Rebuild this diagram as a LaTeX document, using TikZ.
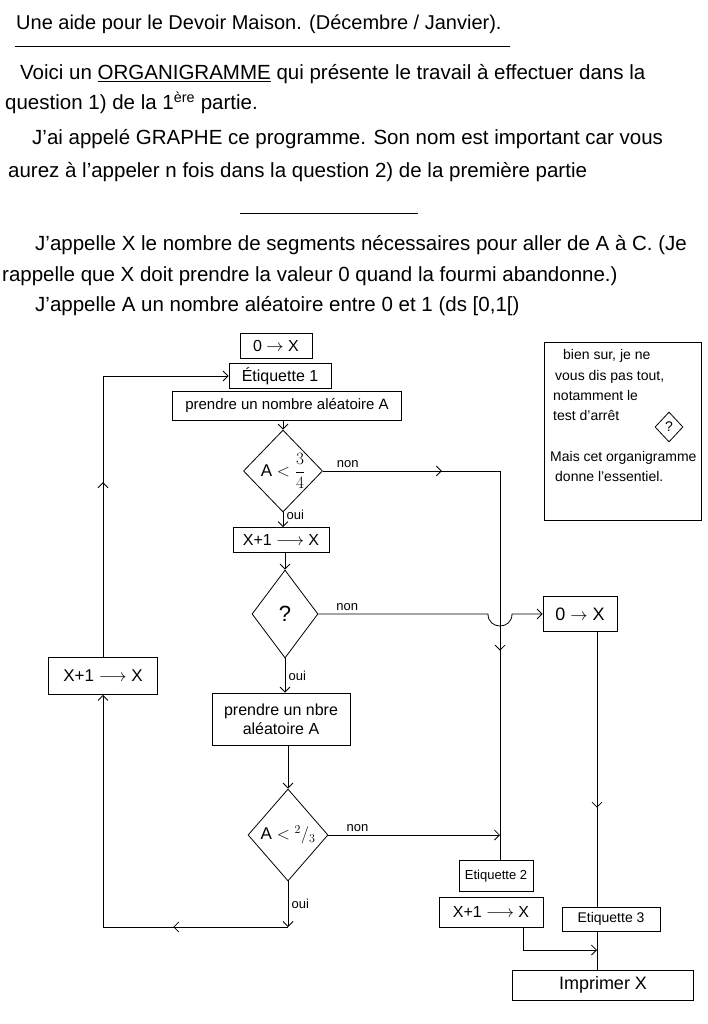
\documentclass[tikz,border=0pt]{standalone}
\usepackage{fontspec}
\setmainfont{Liberation Sans}
\usetikzlibrary{shapes.geometric,arrows.meta,decorations.markings}

\begin{document}
\begin{tikzpicture}[x=1pt,y=-1pt,
    >={Straight Barb[length=5pt,width=10pt]},
    ligne/.style={font=\fontsize{20.5}{25}\selectfont,anchor=base west,inner sep=0pt},
    boite/.style={draw,thick,minimum height=25pt,inner sep=2pt,font=\fontsize{16}{19}\selectfont},
    losange/.style={draw,thick,diamond,inner sep=0pt,font=\fontsize{17}{20}\selectfont},
    lien/.style={thick},
    etiq/.style={font=\fontsize{13}{15}\selectfont},
    note/.style={font=\fontsize{14}{16}\selectfont,anchor=base west,inner sep=0pt},
    milieu/.style={postaction={decorate,decoration={markings,mark=at position #1 with {\arrow{>}}}}}]

  \useasboundingbox (0,0) rectangle (708,1024);

  \node[ligne,font=\fontsize{20}{24}\selectfont] (titre) at (16,30) {Une aide pour le Devoir Maison. (Décembre / Janvier).};
  \draw[thick] (15,46) -- (510,46);

  \node[ligne] (voici) at (20,80) {Voici un \underline{ORGANIGRAMME} qui présente le travail à effectuer dans la};
  \node[ligne] (quest) at (5,110) {question 1) de la 1\textsuperscript{ère} partie.};
  \node[ligne] (appele) at (32,145) {J'ai appelé GRAPHE ce programme. Son nom est important car vous};
  \node[ligne] (aurez) at (8,178) {aurez à l'appeler n fois dans la question 2) de la première partie};
  \draw[thick] (240,213) -- (418,213);

  \node[ligne] (appX) at (35,250) {J'appelle X le nombre de segments nécessaires pour aller de A à C. (Je};
  \node[ligne] (rapp) at (2,281) {rappelle que X doit prendre la valeur 0 quand la fourmi abandonne.)};
  \node[ligne] (appA) at (35,311) {J'appelle A un nombre aléatoire entre 0 et 1 (ds [0,1[)};

  % organigramme
  \node[boite,minimum width=72pt] (zx) at (276,346) {0 $\rightarrow$ X};
  \node[boite,minimum width=102pt] (et1) at (280,376) {Étiquette 1};
  \node[boite,minimum width=229pt,minimum height=29pt,font=\fontsize{15}{18}\selectfont] (prA) at (287,406) {prendre un nombre aléatoire A};
  \node[losange,minimum width=76pt,minimum height=82pt] (tq) at (283,471) {$\mathrm{A}<{\displaystyle\frac{3}{4}}$};
  \node[boite,minimum width=96pt] (xp) at (281,540) {X+1 $\longrightarrow$ X};
  \node[losange,minimum width=66pt,minimum height=88pt,font=\fontsize{22}{26}\selectfont] (tst) at (285,614) {?};
  \node[boite,minimum width=74pt,minimum height=35pt,font=\fontsize{18}{21}\selectfont] (zxb) at (580,614) {0 $\rightarrow$ X};
  \node[boite,minimum width=138pt,minimum height=52pt,align=center] (prB) at (281,719) {prendre un nbre\\aléatoire A};
  \node[losange,minimum width=80pt,minimum height=92pt] (td) at (288,835) {$\mathrm{A}<{}^{2}/{}_{3}$};
  \node[boite,minimum width=109pt,minimum height=37pt,font=\fontsize{17}{20}\selectfont] (xpg) at (103,676) {X+1 $\longrightarrow$ X};
  \node[boite,minimum width=74pt,minimum height=31pt,font=\fontsize{13}{15}\selectfont] (et2) at (496,876) {Etiquette 2};
  \node[boite,minimum width=104pt,minimum height=30pt] (xpd) at (491,912) {X+1 $\longrightarrow$ X};
  \node[boite,minimum width=98pt,minimum height=24pt,font=\fontsize{14}{16}\selectfont] (et3) at (611,919) {Etiquette 3};
  \node[boite,minimum width=181pt,minimum height=30pt,font=\fontsize{18}{21}\selectfont] (impr) at (603,985) {Imprimer X};

  \coordinate (droite) at (500,471);
  \coordinate (saut) at (tst.east -| droite);
  \coordinate (basg) at (103,927);
  \coordinate (col) at (597,614);
  \coordinate (jonc) at (597,950);

  \draw[lien,->] (prA.south -| tq.north) -- (tq.north);
  \draw[lien,->] (tq.south) -- (tq.south |- xp.north) node[pos=0.2,right,etiq] {oui};
  \draw[lien,milieu=0.21,milieu=0.63] (tq.east) -| (et2.north -| droite)
    node[pos=0.07,above,etiq] {non};
  \draw[lien,->] (xp.south -| tst.north) -- (tst.north);
  \draw[lien,->] (tst.east) -- node[pos=0.17,above,etiq] {non} ([xshift=-12pt]saut)
    .. controls +(0,16) and +(0,16) .. ([xshift=12pt]saut) -- (zxb.west);
  \draw[lien,->] (tst.south) -- (tst.south |- prB.north) node[midway,right,etiq] {oui};
  \draw[lien,->] (prB.south -| td.north) -- (td.north);
  \draw[lien,->] (td.east) -- (td.east -| droite) node[pos=0.17,above,etiq] {non};
  \draw[lien,->] (td.south) -- (td.south |- basg) node[midway,right,etiq] {oui};
  \draw[lien,milieu=0.62] (td.south |- basg) -- (basg);
  \draw[lien,->] (basg) -- (xpg.south);
  \draw[lien,->,milieu=0.43] (xpg.north) |- (et1.west);

  \draw[lien,milieu=0.64] (zxb.south -| col) -- (et3.north -| col);
  \draw[lien] (et3.south -| col) -- (impr.north -| col);
  \draw[lien,->] ([xshift=32pt]xpd.south) |- (jonc);

  % encadre
  \node[draw,thick,minimum width=157pt,minimum height=178pt] (cadre) at (623,431) {};
  \node[note] (n1) at (563,359) {bien sur, je ne};
  \node[note] (n2) at (555,380) {vous dis pas tout,};
  \node[note] (n3) at (553,400) {notamment le};
  \node[note] (n4) at (553,420) {test d'arrêt};
  \node[losange,minimum width=28pt,minimum height=30pt,font=\fontsize{14}{16}\selectfont] (petit) at (669,427) {?};
  \node[note] (n5) at (550,461) {Mais cet organigramme};
  \node[note] (n6) at (555,481) {donne l'essentiel.};

\end{tikzpicture}
\end{document}
